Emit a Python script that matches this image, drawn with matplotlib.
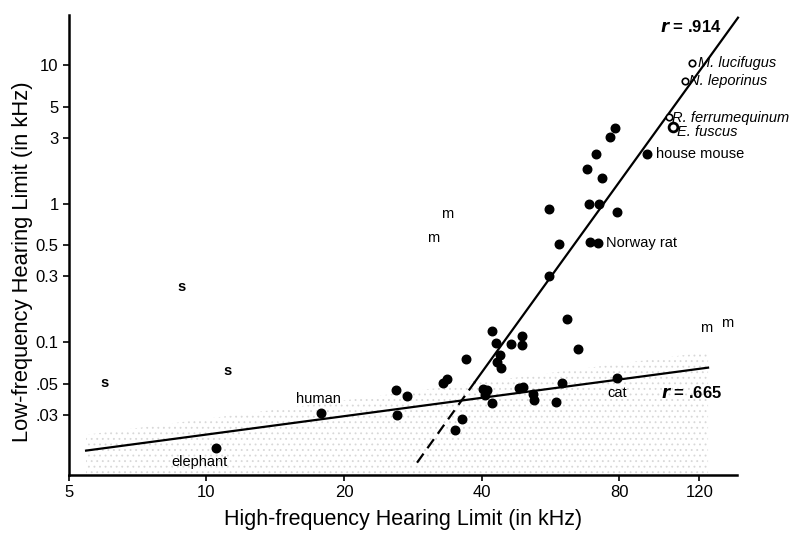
import numpy as np
import matplotlib.pyplot as plt

plt.rcParams['font.family'] = ['Liberation Sans', 'DejaVu Sans']
plt.rcParams['hatch.linewidth'] = 0.6

# unlabeled terrestrial mammals: high-freq limit (kHz), low-freq limit (kHz)
hf = [78.4, 76.5, 71.2, 68.1, 73.4, 56.2, 68.8, 72.3, 79.2, 59.1, 69.1, 56.2,
      42.2, 49.1, 43.0, 46.4, 49.1, 61.6, 65.1, 43.9, 43.3, 44.1, 37.0, 33.6,
      32.9, 26.0, 27.5, 26.1, 40.3, 41.1, 40.7, 42.2, 48.3, 49.3, 51.9, 52.2,
      58.2, 60.0, 36.3, 35.0]
lf = [3.54, 3.05, 2.30, 1.79, 1.54, 0.92, 1.00, 1.00, 0.875, 0.514, 0.532, 0.302,
      0.121, 0.111, 0.099, 0.0975, 0.096, 0.148, 0.0898, 0.0813, 0.0723, 0.0655,
      0.076, 0.0545, 0.051, 0.0454, 0.0411, 0.030, 0.0462, 0.0454, 0.0418, 0.0366,
      0.047, 0.0477, 0.0425, 0.0385, 0.0372, 0.051, 0.028, 0.0233]

# labeled mammals
named = ['house mouse', 'Norway rat', 'cat', 'human', 'elephant']
named_hf = [92.2, 72.0, 79.2, 17.8, 10.5]
named_lf = [2.30, 0.523, 0.0554, 0.031, 0.0173]

# bats (open circles)
bats = ['M. lucifugus', 'N. leporinus', 'R. ferrumequinum', 'E. fuscus']
bats_hf = [115.6, 111.6, 103.0, 105.0]
bats_lf = [10.4, 7.73, 4.25, 3.6]

# subterranean (s) and marine (m) species
s_hf = [8.84, 11.1, 5.97]
s_lf = [0.252, 0.0622, 0.051]
m_hf = [33.6, 31.3, 124.0, 138.0]
m_lf = [0.847, 0.568, 0.127, 0.138]

# regression lines
steep_x = [28.9, 38.7, 145.7]
steep_y = [0.0135, 0.0518, 22.0]
flat_x = [5.45, 125.3]
flat_y = [0.0165, 0.0655]

fig = plt.figure(figsize=(7.92, 5.34), dpi=100)
ax = fig.add_axes([0.0871, 0.1105, 0.8435, 0.8614])
ax.set_xscale('log')
ax.set_yscale('log')
ax.set_xlim(5, 145)
ax.set_ylim(0.011, 23)

# stippled band under the shallow line
ax.fill_between(flat_x, [v * 1.3 for v in flat_y], 0.011, facecolor='white',
                edgecolor='#d8d8d8', hatch='...', linewidth=0, zorder=0)

ax.plot(steep_x[:2], steep_y[:2], color='black', lw=1.6, ls=(0, (5, 3)))
ax.plot(steep_x[1:], steep_y[1:], color='black', lw=1.6, clip_on=False)
ax.plot(flat_x, flat_y, color='black', lw=1.6)

ax.scatter(hf, lf, s=38, color='black', zorder=3)
ax.scatter(named_hf, named_lf, s=38, color='black', zorder=3)
ax.scatter(bats_hf[:3], bats_lf[:3], s=22, facecolor='white', edgecolor='black',
           linewidth=1.2, zorder=3)
ax.scatter(bats_hf[3:], bats_lf[3:], s=40, facecolor='white', edgecolor='black',
           linewidth=2, zorder=3)

for x, y in zip(s_hf, s_lf):
    ax.text(x, y, 's', ha='center', va='center', fontsize=10.5, fontweight='bold')
for x, y in zip(m_hf, m_lf):
    ax.text(x, y, 'm', ha='center', va='center', fontsize=10.5)

# labels
offs = {'house mouse': (6, 0, 'left', 'center'),
        'Norway rat': (6, 0, 'left', 'center'),
        'cat': (0, -11, 'center', 'center'),
        'human': (-2, 10, 'center', 'center'),
        'elephant': (-12, -10, 'center', 'center')}
for n, x, y in zip(named, named_hf, named_lf):
    dx, dy, ha, va = offs[n]
    ax.annotate(n, (x, y), xytext=(dx, dy), textcoords='offset points',
                ha=ha, va=va, fontsize=10.5)
boffs = [(4, 0), (3, 0), (2, -1), (3, -4)]
for n, x, y, (dx, dy) in zip(bats, bats_hf, bats_lf, boffs):
    ax.annotate(n, (x, y), xytext=(dx, dy), textcoords='offset points',
                ha='left', va='center', fontsize=10.5, style='italic')

ax.annotate(r'$\mathbfit{r}$ = .914', (steep_x[2], steep_y[2]), xytext=(-12, -7),
            textcoords='offset points', ha='right', va='center', fontsize=12,
            fontweight='bold', annotation_clip=False)
ax.annotate(r'$\mathbfit{r}$ = .665', (flat_x[1], flat_y[1]), xytext=(10, -18),
            textcoords='offset points', ha='right', va='center', fontsize=12,
            fontweight='bold')

ax.spines['top'].set_visible(False)
ax.spines['right'].set_visible(False)
ax.spines['left'].set_linewidth(1.8)
ax.spines['bottom'].set_linewidth(1.8)

xt = [5, 10, 20, 40, 80, 120]
yt = [0.03, 0.05, 0.1, 0.3, 0.5, 1, 3, 5, 10]
ax.set_xticks(xt)
ax.set_xticklabels([str(v) for v in xt])
ax.set_yticks(yt)
ax.set_yticklabels(['.03', '.05', '0.1', '0.3', '0.5', '1', '3', '5', '10'])
ax.minorticks_off()
ax.tick_params(axis='both', labelsize=12, length=4, width=1.2, direction='out')

ax.set_xlabel('High-frequency Hearing Limit (in kHz)', fontsize=15.5, labelpad=6)
ax.set_ylabel('Low-frequency Hearing Limit (in kHz)', fontsize=15.8)
ax.yaxis.set_label_coords(-0.054, 0.463)

fig.savefig('out.png', dpi=100)
